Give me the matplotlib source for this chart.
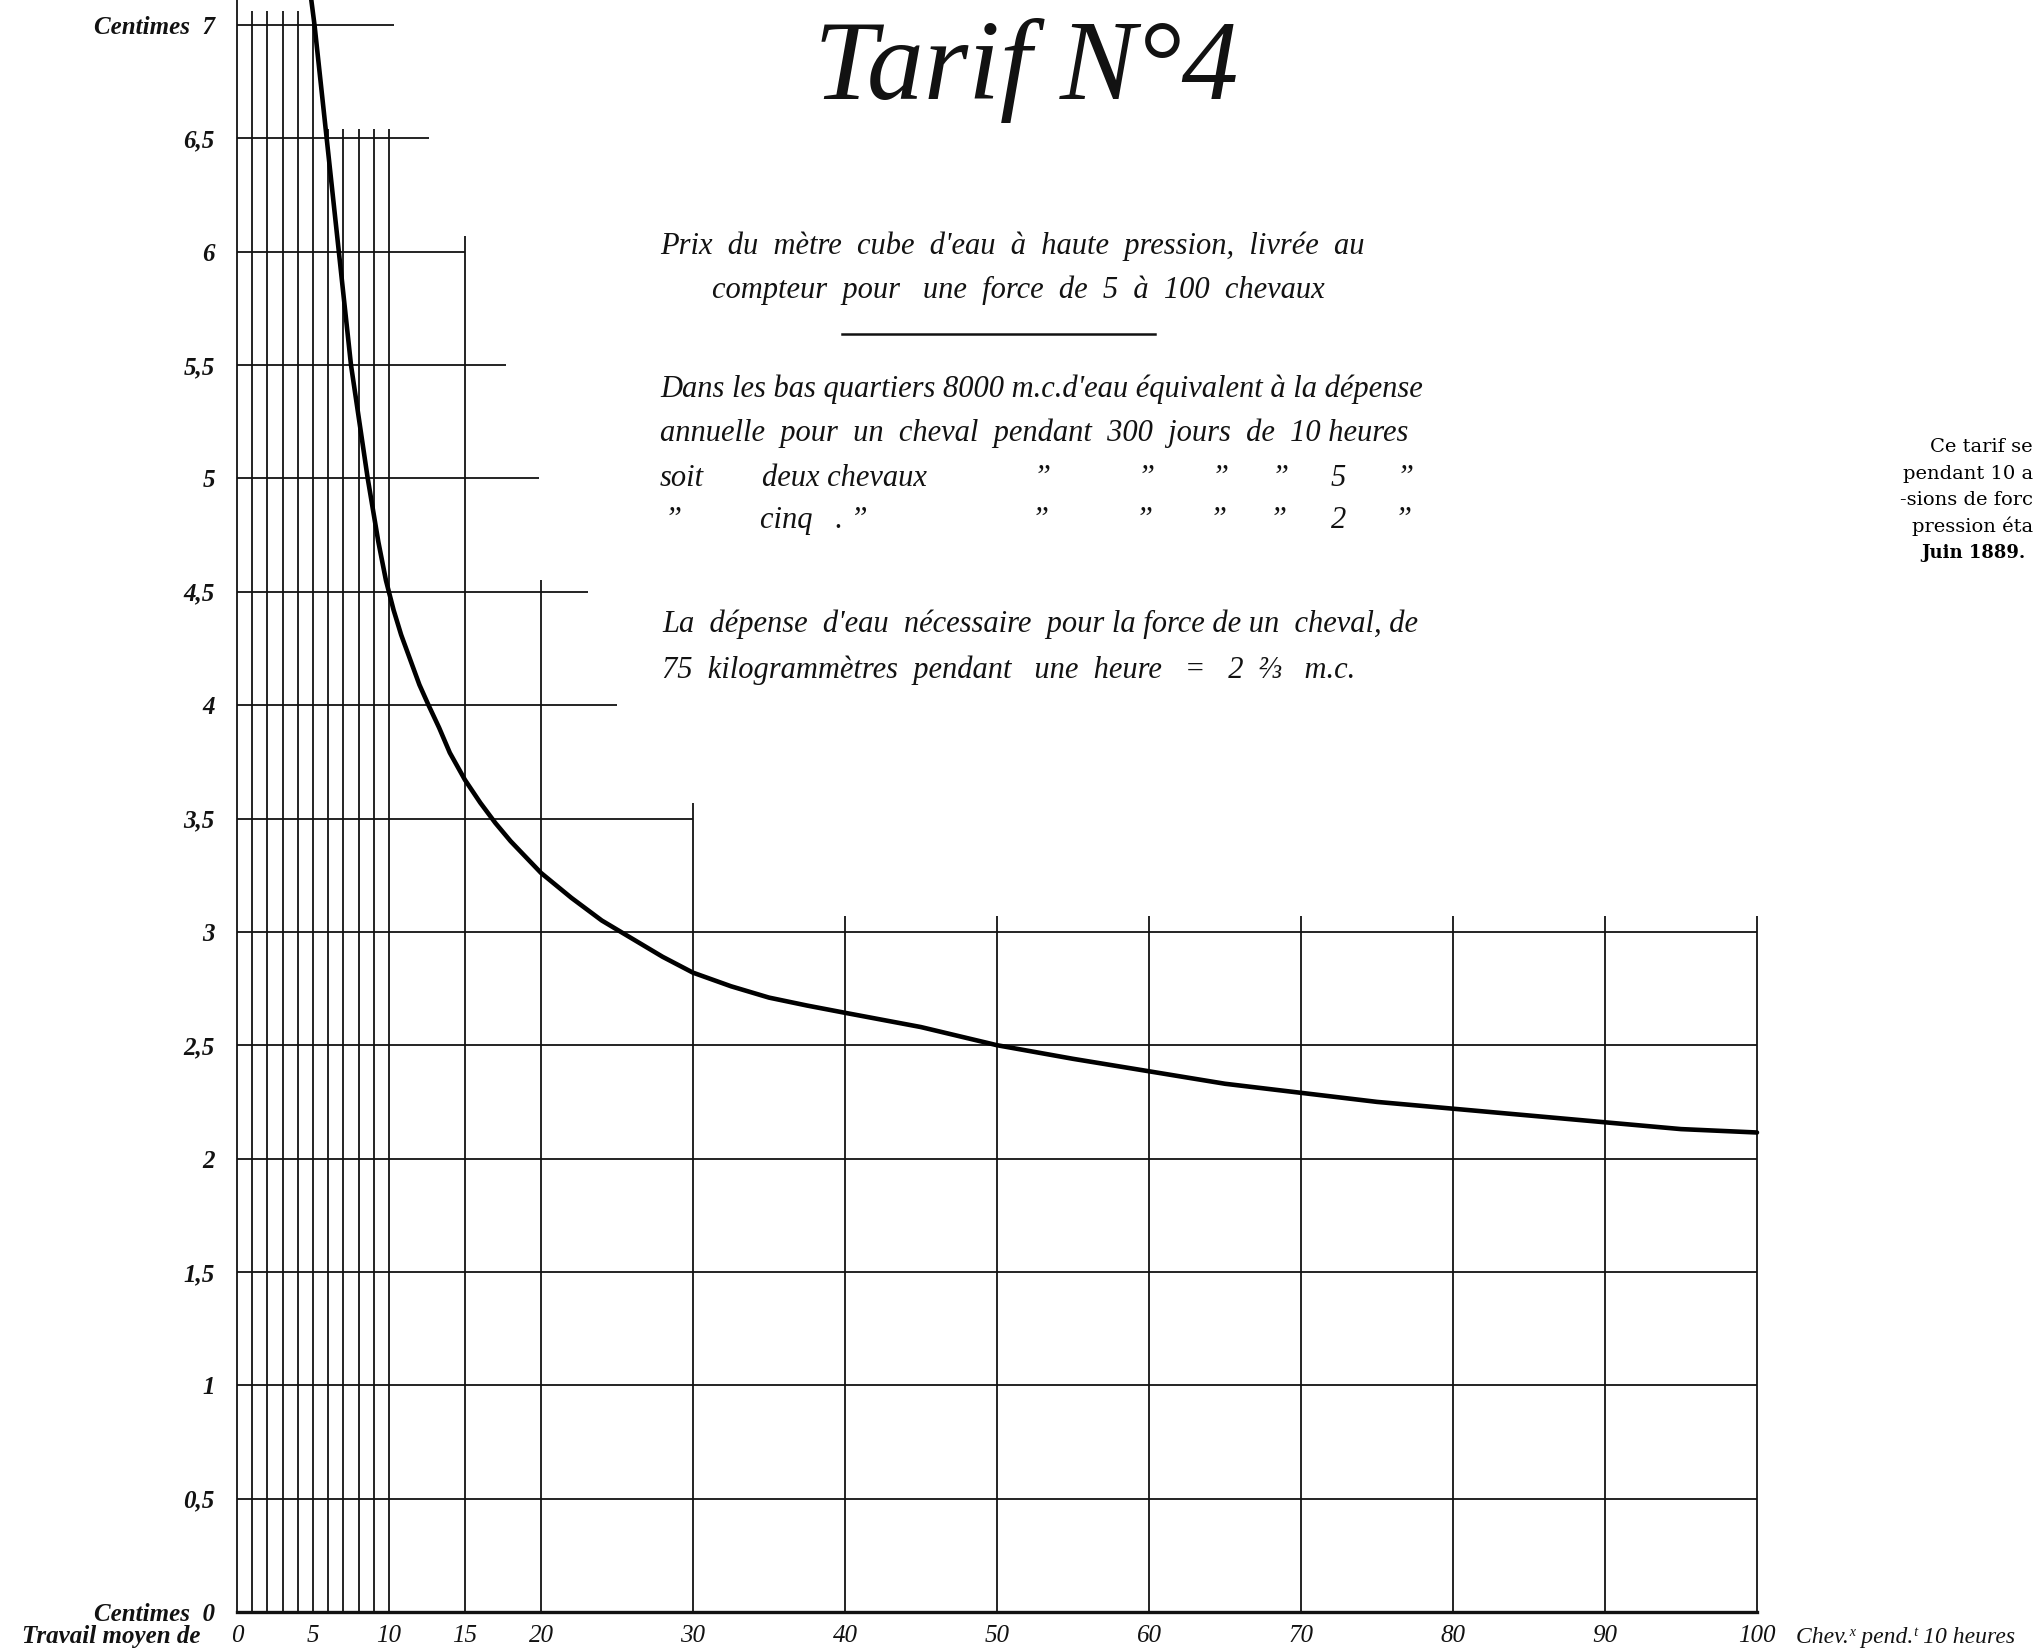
import matplotlib
matplotlib.use("Agg")
import matplotlib.pyplot as plt
import numpy as np

# --- données lues sur la planche ---
# courbe : prix du m3 (centimes) selon la force (chevaux)
force = [4.85, 5.1, 5.9, 6.7, 7.5, 8.6, 9.3, 9.8, 10.3, 10.8, 11.4, 12.0, 12.6,
         13.3, 14.0, 15.0, 16.0, 17.0, 18.0, 19.0, 20.0, 22.0, 24.0, 26.0,
         28.0, 30, 32.5, 35, 37.5, 40, 45, 50, 55, 60, 65, 70, 75, 80, 85,
         90, 95, 100]
prix = [7.13, 7.0, 6.5, 6.0, 5.5, 5.0, 4.72, 4.55, 4.42, 4.31, 4.2, 4.09, 4.0,
        3.9, 3.79, 3.67, 3.57, 3.48, 3.4, 3.33, 3.26, 3.15, 3.05, 2.97,
        2.89, 2.82, 2.76, 2.71, 2.675, 2.643, 2.58, 2.5, 2.44, 2.385, 2.33,
        2.29, 2.25, 2.22, 2.19, 2.16, 2.13, 2.115]

# quadrillage en escalier
h_levels = [7, 6.5, 6, 5.5, 5, 4.5, 4, 3.5, 3, 2.5, 2, 1.5, 1, 0.5]
h_ends = [10.3, 12.6, 15, 17.7, 19.9, 23.1, 25, 30, 100, 100, 100, 100, 100, 100]
v_pos = [0, 1, 2, 3, 4, 5, 6, 7, 8, 9, 10, 15, 20, 30, 40, 50, 60, 70, 80, 90, 100]
v_tops = [7.2, 7.06, 7.06, 7.06, 7.06, 7.06, 6.54, 6.54, 6.54, 6.54, 6.54,
          6.07, 4.55, 3.57, 3.07, 3.07, 3.07, 3.07, 3.07, 3.07, 3.07]

x_ticks = [0, 5, 10, 15, 20, 30, 40, 50, 60, 70, 80, 90, 100]
y_ticks = [0, 0.5, 1, 1.5, 2, 2.5, 3, 3.5, 4, 4.5, 5, 5.5, 6, 6.5, 7]
y_labels = ["Centimes  0", "0,5", "1", "1,5", "2", "2,5", "3", "3,5", "4",
            "4,5", "5", "5,5", "6", "6,5", "Centimes  7"]

W, H = 2036, 1651
INK = "#121212"

fig = plt.figure(figsize=(W / 100, H / 100), dpi=100)
fig.patch.set_facecolor("white")


def px(x, y):
    # pixels de la planche -> fraction de figure
    return x / W, 1 - y / H


x0, x1 = 237, 1757
y0, y7 = 1612, 25
ax = fig.add_axes([x0 / W, (H - y0) / H, (x1 - x0) / W, (y0 - y7) / H])
ax.set_xlim(0, 100)
ax.set_ylim(0, 7)
for s in ["top", "right", "left"]:
    ax.spines[s].set_visible(False)
ax.spines["bottom"].set_linewidth(2.4)
ax.spines["bottom"].set_color(INK)

# lignes horizontales
for lvl, end in zip(h_levels, h_ends):
    ax.plot([0, end], [lvl, lvl], color=INK, lw=1.3, clip_on=False,
            solid_capstyle="butt")
# lignes verticales
for xv, top in zip(v_pos, v_tops):
    ax.plot([xv, xv], [0, top], color=INK, lw=1.3, clip_on=False,
            solid_capstyle="butt")

# courbe du tarif
ax.plot(force, prix, color="black", lw=3.3, clip_on=False,
        solid_capstyle="round", solid_joinstyle="round")

ax.set_xticks(x_ticks)
ax.set_xticklabels([str(t) for t in x_ticks], fontfamily="Liberation Serif",
                   fontstyle="italic", fontsize=18, color=INK)
ax.set_yticks(y_ticks)
ax.set_yticklabels(y_labels, fontfamily="Liberation Serif", fontstyle="italic",
                   fontweight="bold", fontsize=18, color=INK)
ax.tick_params(axis="x", length=0, pad=9)
ax.tick_params(axis="y", length=0, pad=16)

# légendes d'axe
fig.text(*px(200, 1643), "Travail moyen de", ha="right", va="baseline",
         fontfamily="Liberation Serif", fontstyle="italic", fontweight="bold",
         fontsize=18, color=INK)
fig.text(*px(1796, 1643), "Chev.ˣ pend.ᵗ 10 heures", ha="left", va="baseline",
         fontfamily=["Liberation Serif", "DejaVu Serif"], fontstyle="italic",
         fontsize=17, color=INK)

# titre
fig.text(*px(1026, 99), "Tarif N°4", ha="center", va="baseline",
         fontfamily="Liberation Serif", fontstyle="italic", fontsize=82,
         color=INK)

# texte central
serif_it = dict(fontfamily="Liberation Serif", fontstyle="italic",
                fontsize=22, color=INK, va="baseline")
fig.text(*px(660, 254),
         "Prix  du  mètre  cube  d'eau  à  haute  pression,  livrée  au",
         ha="left", **serif_it)
fig.text(*px(712, 298),
         "compteur  pour   une  force  de  5  à  100  chevaux",
         ha="left", **serif_it)
fig.lines.append(plt.Line2D([842 / W, 1155 / W], [1 - 334 / H, 1 - 334 / H],
                            transform=fig.transFigure, color=INK, lw=1.8))
fig.text(*px(660, 397),
         "Dans les bas quartiers 8000 m.c.d'eau équivalent à la dépense",
         ha="left", **serif_it)
fig.text(*px(660, 441),
         "annuelle  pour  un  cheval  pendant  300  jours  de  10 heures",
         ha="left", **serif_it)

# tableau soit / cinq
fig.text(*px(660, 486), "soit", ha="left", **serif_it)
fig.text(*px(762, 486), "deux chevaux", ha="left", **serif_it)
fig.text(*px(664, 528), "\u201d", ha="left", **serif_it)
fig.text(*px(760, 528), "cinq   . \u201d", ha="left", **serif_it)
for xq in [1033, 1137, 1211, 1271, 1396]:
    fig.text(*px(xq, 486), "\u201d", ha="left", **serif_it)
    fig.text(*px(xq - 2, 528), "\u201d", ha="left", **serif_it)
fig.text(*px(1331, 486), "5", ha="left", **serif_it)
fig.text(*px(1331, 528), "2", ha="left", **serif_it)

fig.text(*px(662, 632),
         "La  dépense  d'eau  nécessaire  pour la force de un  cheval, de",
         ha="left", **serif_it)
fig.text(*px(662, 678),
         "75  kilogrammètres  pendant   une  heure   =   2  ⅔   m.c.",
         ha="left", **serif_it)

# note à droite (coupée au bord de la planche)
right_lines = ["Ce tarif se", "pendant 10 a", "-sions de forc", "pression éta"]
right_y = [452, 479, 505, 532]
for t, yr in zip(right_lines, right_y):
    fig.text(*px(2033, yr), t, ha="right", va="baseline",
             fontfamily="DejaVu Serif", fontsize=14, color="black")
fig.text(*px(2026, 558), "Juin 1889.", ha="right", va="baseline",
         fontfamily="DejaVu Serif", fontweight="bold", fontsize=13,
         color="black")

fig.savefig("out.png", dpi=100, facecolor="white")
